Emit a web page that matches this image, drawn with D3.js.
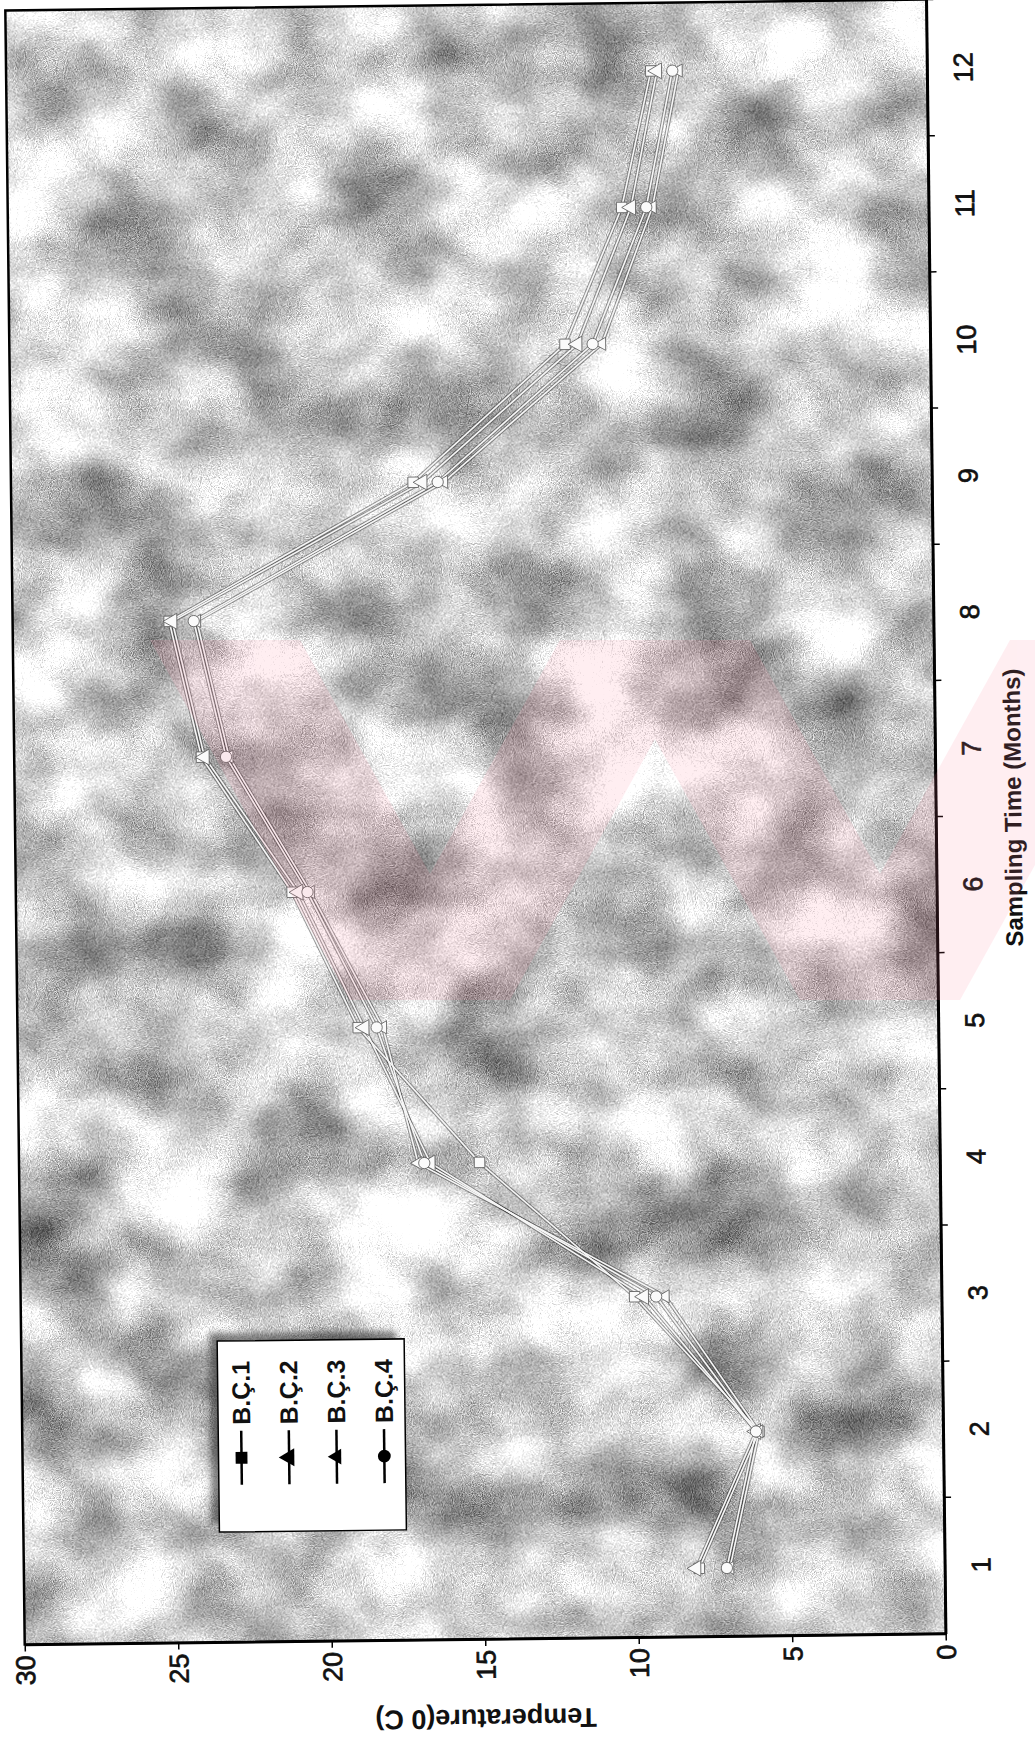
<!DOCTYPE html>
<html lang="en">
<head>
<meta charset="UTF-8">
<title>Temperature by sampling time</title>
<script src="https://cdn.jsdelivr.net/npm/d3@7"></script>
<style>
  body { margin: 0; background: #fff; }
  text { font-family: "Liberation Sans", Arial, sans-serif; fill: #111; }
</style>
</head>
<body>
<div id="chart"></div>
<script>
// data
var months = ["1", "2", "3", "4", "5", "6", "7", "8", "9", "10", "11", "12"];
var tempTicks = [0, 5, 10, 15, 20, 25, 30];
var seriesNames = ["B.Ç.1", "B.Ç.2", "B.Ç.3", "B.Ç.4"];
var bc1 = [8.0, 6.0, 10.0, 15.0, 18.9, 21.0, 23.9, 24.9, 16.9, 11.9, 10.0, 9.0];
var bc2 = [8.1, 6.1, 9.7, 16.6, 18.7, 20.8, 23.8, 24.8, 16.6, 11.5, 9.7, 8.8];
var bc3 = [7.0, 6.0, 9.0, 17.0, 18.1, 20.4, 23.0, 24.0, 15.9, 10.7, 9.0, 8.1];
var bc4 = [7.1, 6.1, 9.3, 16.8, 18.3, 20.5, 23.1, 24.1, 16.1, 11.0, 9.2, 8.3];
var xTitle = "Sampling Time (Months)";
var yTitle = "Temperature(0 C)";

var width = 1035, height = 1739;
var plot = { left: 15, right: 936, top: 5, bottom: 1639 };
var cx = (plot.left + plot.right) / 2, cy = (plot.top + plot.bottom) / 2;
var tilt = -0.68; // the scan is slightly skewed

var svg = d3.select("#chart").append("svg")
    .attr("width", width).attr("height", height);

// mottled grey background of the scan
var defs = svg.append("defs");
var f = defs.append("filter").attr("id", "mottle")
    .attr("x", 0).attr("y", 0).attr("width", 1).attr("height", 1)
    .attr("color-interpolation-filters", "sRGB");
f.append("feTurbulence").attr("type", "fractalNoise").attr("baseFrequency", "0.009 0.011")
    .attr("numOctaves", 3).attr("seed", 7).attr("result", "big");
f.append("feColorMatrix").attr("in", "big").attr("type", "matrix")
    .attr("values", "1 0 0 0 0  1 0 0 0 0  1 0 0 0 0  0 0 0 0 1").attr("result", "bigG");
f.append("feTurbulence").attr("type", "fractalNoise").attr("baseFrequency", "1.1")
    .attr("numOctaves", 1).attr("seed", 3).attr("result", "fine");
f.append("feColorMatrix").attr("in", "fine").attr("type", "matrix")
    .attr("values", "1 0 0 0 0  1 0 0 0 0  1 0 0 0 0  0 0 0 0 1").attr("result", "fineG");
f.append("feComposite").attr("in", "bigG").attr("in2", "fineG").attr("operator", "arithmetic")
    .attr("k1", 0).attr("k2", 1).attr("k3", 0.9).attr("k4", -0.45).attr("result", "mix");
f.append("feColorMatrix").attr("in", "mix").attr("type", "matrix")
    .attr("values", "1.1 0 0 0 0.24  1.1 0 0 0 0.24  1.1 0 0 0 0.24  0 0 0 0 1");

var blur = defs.append("filter").attr("id", "soft");
blur.append("feGaussianBlur").attr("stdDeviation", 3);

var g = svg.append("g").attr("transform", "rotate(" + tilt + "," + cx + "," + cy + ")");

var tScale = d3.scaleLinear().domain([30, 0]).range([plot.left, plot.right]);
var mScale = d3.scaleBand().domain(months).range([plot.bottom, plot.top]);
var mid = function (m) { return mScale(m) + mScale.bandwidth() / 2; };

g.append("rect")
    .attr("x", plot.left).attr("y", plot.top)
    .attr("width", plot.right - plot.left).attr("height", plot.bottom - plot.top)
    .attr("fill", "#bbb").attr("filter", "url(#mottle)");

// pale pink watermark (two crossed stripe pairs)
var wm = svg.append("g").attr("opacity", 0.13);
[["M150,640 L300,640 L500,1000 L350,1000 Z"], ["M560,640 L710,640 L510,1000 L360,1000 Z"],
 ["M600,640 L750,640 L950,1000 L800,1000 Z"], ["M1010,640 L1160,640 L960,1000 L810,1000 Z"]]
    .forEach(function (p) {
        wm.append("path").attr("d", p[0]).attr("fill", "#ff7f98");
    });

// series lines
var series = seriesNames.map(function (n, i) {
    var vals = [bc1, bc2, bc3, bc4][i];
    return { name: n, values: months.map(function (m, j) { return { m: m, v: vals[j] }; }) };
});
var symbols = [d3.symbolSquare, d3.symbolTriangle, d3.symbolTriangle, d3.symbolCircle];
var symSize = [110, 110, 75, 100];

var line = d3.line()
    .x(function (d) { return tScale(d.v); })
    .y(function (d) { return mid(d.m); });

g.selectAll(".shadow").data(series).enter().append("path")
    .attr("class", "shadow")
    .attr("d", function (d) { return line(d.values); })
    .attr("fill", "none").attr("stroke", "#222").attr("stroke-width", 3.6)
    .attr("stroke-opacity", 0.45);
g.selectAll(".serie").data(series).enter().append("path")
    .attr("class", "serie")
    .attr("d", function (d) { return line(d.values); })
    .attr("fill", "none").attr("stroke", "#f6f6f6").attr("stroke-width", 1.6);

series.forEach(function (s, i) {
    g.selectAll(".pt" + i).data(s.values).enter().append("path")
        .attr("class", "pt" + i)
        .attr("d", d3.symbol().type(symbols[i]).size(symSize[i]))
        .attr("transform", function (d) {
            return "translate(" + tScale(d.v) + "," + mid(d.m) + ") rotate(-90)";
        })
        .attr("fill", "#fafafa").attr("stroke", "#555").attr("stroke-width", 0.8);
});

// frame
g.append("rect")
    .attr("x", plot.left).attr("y", plot.top)
    .attr("width", plot.right - plot.left).attr("height", plot.bottom - plot.top)
    .attr("fill", "none").attr("stroke", "#000").attr("stroke-width", 2.5);

// temperature axis (bottom of the page)
var tAxis = d3.axisBottom(tScale).tickValues(tempTicks).tickSize(7).tickSizeOuter(0);
var ta = g.append("g").attr("transform", "translate(0," + plot.bottom + ")").call(tAxis);
ta.attr("font-size", 27).attr("font-family", "Liberation Sans, Arial, sans-serif");
ta.select(".domain").attr("stroke", "#000").attr("stroke-width", 2.5);
ta.selectAll(".tick line").attr("stroke", "#000").attr("stroke-width", 1.5);
ta.selectAll(".tick text")
    .attr("x", -11).attr("y", 0).attr("dy", "0.35em")
    .attr("transform", "rotate(-90)")
    .style("text-anchor", "end")
    .attr("stroke", "#111").attr("stroke-width", 0.7);

// month axis (right side of the page)
var mAxis = d3.axisRight(mScale).tickSize(0).tickSizeOuter(0);
var ma = g.append("g").attr("transform", "translate(" + plot.right + ",0)").call(mAxis);
ma.attr("font-size", 27).attr("font-family", "Liberation Sans, Arial, sans-serif");
ma.select(".domain").attr("stroke", "#000").attr("stroke-width", 2.5);
ma.selectAll(".tick text")
    .attr("x", 0).attr("y", 0).attr("dy", "0.35em")
    .attr("transform", "translate(36,0) rotate(-90)")
    .style("text-anchor", "middle")
    .attr("stroke", "#111").attr("stroke-width", 0.7);
ma.selectAll(".btick").data(months).enter().append("line")
    .attr("class", "btick")
    .attr("x1", 0).attr("x2", 7)
    .attr("y1", function (m) { return mScale(m); })
    .attr("y2", function (m) { return mScale(m); })
    .attr("stroke", "#000").attr("stroke-width", 1.5);

// axis titles
g.append("text")
    .attr("transform", "translate(" + cx + ",1719) rotate(180)")
    .attr("dy", "0.35em")
    .style("text-anchor", "middle").style("font-weight", "bold").style("font-size", "27px")
    .text(yTitle);
g.append("text")
    .attr("transform", "translate(1013," + (cy - 8) + ") rotate(-90)")
    .attr("dy", "0.35em")
    .style("text-anchor", "middle").style("font-weight", "bold").style("font-size", "24px")
    .text(xTitle);

// legend
var lg = { x: 211, y: 1338, w: 187, h: 191 };
g.append("rect")
    .attr("x", lg.x - 8).attr("y", lg.y - 8).attr("width", lg.w).attr("height", lg.h)
    .attr("fill", "#333").attr("opacity", 0.6).attr("filter", "url(#soft)");
g.append("rect")
    .attr("x", lg.x).attr("y", lg.y).attr("width", lg.w).attr("height", lg.h)
    .attr("fill", "#fff").attr("stroke", "#000").attr("stroke-width", 1.5);
var items = g.selectAll(".leg").data(seriesNames).enter().append("g")
    .attr("class", "leg")
    .attr("transform", function (d, i) { return "translate(" + (lg.x + 23 + i * 47.6) + ",0)"; });
items.append("line")
    .attr("x1", 0).attr("x2", 0).attr("y1", 1482).attr("y2", 1428)
    .attr("stroke", "#000").attr("stroke-width", 2.5);
items.append("path")
    .attr("d", function (d, i) { return d3.symbol().type(symbols[i]).size(symSize[i] + 30)(); })
    .attr("transform", "translate(0,1455) rotate(-90)")
    .attr("fill", "#000");
items.append("text")
    .attr("transform", "translate(0,1422) rotate(-90)")
    .attr("dy", "0.36em")
    .style("font-weight", "bold").style("font-size", "25px")
    .text(function (d) { return d; });
</script>
</body>
</html>
